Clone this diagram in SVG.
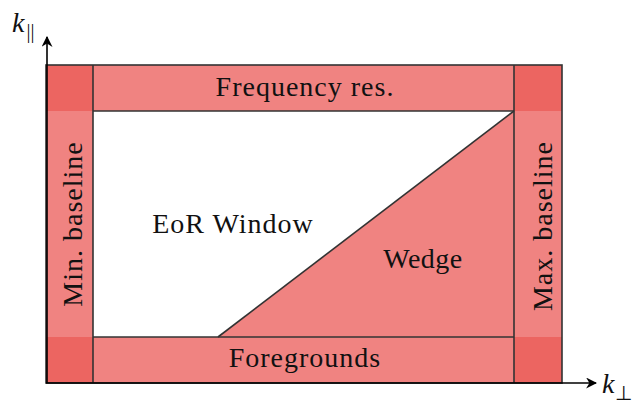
<svg xmlns="http://www.w3.org/2000/svg" width="634" height="410" viewBox="0 0 634 410">
<defs>
<style>
.strip{fill:#F08381;stroke:none}
.corner{fill:#EC6561;stroke:none}
.line{stroke:#333;stroke-width:1.6;fill:none}
.axis{stroke:#000;stroke-width:1.6;fill:none}
</style>
<marker id="arr" viewBox="0 0 10 10" refX="9" refY="5" markerWidth="11" markerHeight="11" markerUnits="userSpaceOnUse" orient="auto">
<path d="M0,0 L10,5 L0,10 L3,5 Z" fill="#000"/>
</marker>
</defs>
<rect width="634" height="410" fill="#fff"/>
<g id="top-strip"><rect class="strip" x="46" y="65" width="516" height="46"/><text font-family="Liberation Serif" font-size="28" letter-spacing="1" fill="#111" x="305" y="96" text-anchor="middle">Frequency res.</text></g>
<g id="bottom-strip"><rect class="strip" x="46" y="337" width="516" height="46"/><text font-family="Liberation Serif" font-size="28" letter-spacing="1" fill="#111" x="305" y="367" text-anchor="middle">Foregrounds</text></g>
<g id="left-strip"><rect class="strip" x="46" y="65" width="47" height="318"/><text font-family="Liberation Serif" font-size="28" letter-spacing="1" fill="#111" transform="translate(82,224) rotate(-90)" x="0" y="0" text-anchor="middle">Min. baseline</text></g>
<g id="right-strip"><rect class="strip" x="514" y="65" width="48" height="318"/><text font-family="Liberation Serif" font-size="28" letter-spacing="1" fill="#111" transform="translate(552,226) rotate(-90)" x="0" y="0" text-anchor="middle">Max. baseline</text></g>
<g id="corners">
<rect class="corner" x="46" y="65" width="47" height="46"/>
<rect class="corner" x="514" y="65" width="48" height="46"/>
<rect class="corner" x="46" y="337" width="47" height="46"/>
<rect class="corner" x="514" y="337" width="48" height="46"/>
</g>
<g id="window"><rect x="93" y="111" width="421" height="226" fill="#fff"/><text font-family="Liberation Serif" font-size="28" letter-spacing="1" fill="#111" x="233" y="233" text-anchor="middle">EoR Window</text></g>
<g id="wedge"><polygon points="218,337 514,111 514,337" fill="#F08381"/><text font-family="Liberation Serif" font-size="28" letter-spacing="0.5" fill="#111" x="423" y="268" text-anchor="middle">Wedge</text></g>
<g id="connectors">
<line class="line" x1="218" y1="337" x2="514" y2="111"/>
<line class="line" x1="93" y1="111" x2="514" y2="111"/>
<line class="line" x1="93" y1="337" x2="514" y2="337"/>
<line class="line" x1="93" y1="65" x2="93" y2="383"/>
<line class="line" x1="514" y1="65" x2="514" y2="383"/>
<rect class="line" x="46" y="65" width="516" height="318" stroke-width="2"/>
<line class="axis" x1="47" y1="383" x2="47" y2="37" marker-end="url(#arr)"/>
<line class="axis" x1="46" y1="383" x2="596" y2="383" marker-end="url(#arr)"/>
</g>
<g id="axis-labels">
<text font-family="Liberation Serif" font-style="italic" font-size="28" fill="#111" x="12" y="32">k<tspan font-style="normal" font-size="20" dx="2" dy="6">||</tspan></text>
<text font-family="Liberation Serif" font-style="italic" font-size="28" fill="#111" x="602" y="393">k<tspan font-style="normal" font-size="20" dx="1" dy="7">⊥</tspan></text>
</g>
</svg>
